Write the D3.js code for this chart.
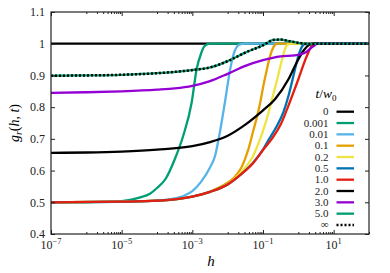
<!DOCTYPE html>
<html>
<head>
<meta charset="utf-8">
<script src="https://cdn.jsdelivr.net/npm/d3@7"></script>
<style>
  body { margin: 0; background: #fff; }
  text { font-family: 'Liberation Serif', 'Times New Roman', 'DejaVu Serif', serif; }
</style>
</head>
<body>
<svg id="chart" width="390" height="273"></svg>
<script>
// series: [log10(h), g_r] pairs
const s0    = [[-7, 1], [2, 1]];
const s0001 = [[-7, 0.5], [-6, 0.5], [-5.3, 0.501], [-5, 0.504], [-4.5, 0.515], [-4.2, 0.527], [-4, 0.545], [-3.75, 0.575], [-3.5, 0.635], [-3.26, 0.709], [-3.02, 0.814], [-2.88, 0.919], [-2.75, 0.97], [-2.65, 0.993], [-2.5, 1], [2, 1]];
const s001  = [[-7, 0.5], [-5, 0.501], [-4, 0.505], [-3.5, 0.512], [-3.25, 0.52], [-3, 0.535], [-2.75, 0.565], [-2.5, 0.61], [-2.36, 0.645], [-2.24, 0.709], [-2.08, 0.814], [-1.93, 0.919], [-1.79, 0.98], [-1.65, 0.998], [-1.5, 1], [2, 1]];
const s01   = [[-7, 0.5], [-5, 0.502], [-4, 0.505], [-3, 0.518], [-2.5, 0.534], [-2.03, 0.56], [-1.8, 0.58], [-1.6, 0.612], [-1.42, 0.665], [-1.27, 0.728], [-1.18, 0.765], [-1.08, 0.814], [-0.99, 0.867], [-0.89, 0.919], [-0.8, 0.961], [-0.7, 0.99], [-0.6, 1], [2, 1]];
const s02   = [[-7, 0.5], [-5, 0.502], [-4, 0.505], [-3, 0.518], [-2.5, 0.533], [-2, 0.557], [-1.8, 0.575], [-1.5, 0.61], [-1.3, 0.642], [-1.15, 0.68], [-1, 0.725], [-0.85, 0.78], [-0.71, 0.84], [-0.57, 0.9], [-0.45, 0.955], [-0.35, 0.99], [-0.25, 1], [2, 1]];
const s05   = [[-7, 0.5], [-5, 0.502], [-4, 0.505], [-3, 0.518], [-2.5, 0.533], [-2, 0.556], [-1.6, 0.59], [-1.27, 0.626], [-1, 0.666], [-0.85, 0.695], [-0.6, 0.742], [-0.42, 0.785], [-0.28, 0.835], [-0.14, 0.898], [0, 0.961], [0.1, 0.99], [0.2, 1], [2, 1]];
const s10   = [[-7, 0.5], [-5, 0.502], [-4, 0.505], [-3.5, 0.509], [-3, 0.518], [-2.5, 0.533], [-2, 0.556], [-1.6, 0.59], [-1.27, 0.625], [-1, 0.665], [-0.75, 0.7], [-0.5, 0.745], [-0.28, 0.805], [0, 0.888], [0.24, 0.961], [0.38, 0.993], [0.5, 1], [2, 1]];
const s20   = [[-7, 0.656], [-6, 0.657], [-5, 0.66], [-4, 0.666], [-3, 0.677], [-2.5, 0.69], [-2, 0.71], [-1.5, 0.745], [-1, 0.79], [-0.66, 0.825], [-0.28, 0.888], [-0.05, 0.94], [0.14, 0.977], [0.3, 0.996], [0.45, 1], [2, 1]];
const s30   = [[-7, 0.845], [-6, 0.847], [-5, 0.85], [-4, 0.855], [-3.5, 0.859], [-3, 0.867], [-2.5, 0.882], [-2, 0.905], [-1.5, 0.93], [-1, 0.948], [-0.5, 0.96], [-0.1, 0.963], [0.2, 0.972], [0.4, 0.99], [0.55, 1], [2, 1]];
const s50   = [[-7, 0.899], [-6, 0.9], [-5, 0.902], [-4, 0.907], [-3, 0.917], [-2.5, 0.925], [-2, 0.945], [-1.5, 0.972], [-1, 0.995], [-0.7, 1.012], [-0.5, 1.013], [-0.25, 1.008], [0, 1.003], [0.3, 0.999], [0.6, 1], [2, 1]];
const sInf  = s50;

const labels = ["0", "0.001", "0.01", "0.1", "0.2", "0.5", "1.0", "2.0", "3.0", "5.0", "\u221e"];
const colors = ["#000000", "#009e73", "#56b4e9", "#e69f00", "#f0e442", "#0072b2", "#e51e10", "#000000", "#9400d3", "#009e73", "#000000"];
const series = [s0, s0001, s001, s01, s02, s05, s10, s20, s30, s50, sInf];

const yTicks = [0.4, 0.5, 0.6, 0.7, 0.8, 0.9, 1, 1.1];
const xLabelExps = [-7, -5, -3, -1, 1];

const L = 51, R = 369, T = 12, B = 234;
const svg = d3.select('#chart');

const x = d3.scaleLog().domain([1e-7, 1e2]).range([L, R]);
const y = d3.scaleLinear().domain([0.4, 1.1]).range([B, T]);

// ticks: base-100 style, majors at odd decades, minors 1..9 x even decades
let majorX = [], minorX = [];
for (let e = -7; e <= 2; e++) {
    if ((e + 7) % 2 === 0) majorX.push(Math.pow(10, e));
    else for (let k = 1; k <= 9; k++) minorX.push(k * Math.pow(10, e));
}
minorX = minorX.filter(v => v <= 1e2);

const line = d3.line()
    .x(d => x(Math.pow(10, d[0])))
    .y(d => y(d[1]))
    .curve(d3.curveMonotoneX);

svg.append('clipPath').attr('id', 'clip')
    .append('rect').attr('x', L).attr('y', T).attr('width', R - L).attr('height', B - T);

const g = svg.append('g').attr('clip-path', 'url(#clip)');
series.forEach(function (s, i) {
    let p = g.append('path')
        .attr('d', line(s))
        .attr('fill', 'none')
        .attr('stroke', colors[i])
        .attr('stroke-width', 2.3);
    if (i === series.length - 1) p.attr('stroke-dasharray', '2,2').attr('stroke-width', 2.5);
});

// axes
function drawAxis(axis, tx, ty) {
    let a = svg.append('g').attr('transform', 'translate(' + tx + ',' + ty + ')').call(axis);
    a.select('.domain').remove();
    a.attr('font-family', null).attr('font-size', null);
    a.selectAll('line').attr('stroke', '#222');
    return a;
}
drawAxis(d3.axisBottom(x).tickValues(majorX).tickSize(-4).tickFormat(''), 0, B);
drawAxis(d3.axisBottom(x).tickValues(minorX).tickSize(-2).tickFormat(''), 0, B);
drawAxis(d3.axisTop(x).tickValues(majorX).tickSize(-4).tickFormat(''), 0, T);
drawAxis(d3.axisTop(x).tickValues(minorX).tickSize(-2).tickFormat(''), 0, T);
let ya = drawAxis(d3.axisLeft(y).tickValues(yTicks).tickSize(-4)
    .tickFormat(d => d === 1 ? '1' : d3.format('.1f')(d)), L, 0);
ya.selectAll('text').attr('x', -6).attr('font-size', 12).attr('fill', '#222');
drawAxis(d3.axisRight(y).tickValues(yTicks).tickSize(-4).tickFormat(''), R, 0);

svg.append('rect').attr('x', L).attr('y', T).attr('width', R - L).attr('height', B - T)
    .attr('fill', 'none').attr('stroke', '#222').attr('stroke-width', 1.2);

// x tick labels 10^n
let xl = svg.append('g').selectAll('text').data(xLabelExps).enter().append('text')
    .attr('x', d => x(Math.pow(10, d)))
    .attr('y', B + 15)
    .attr('text-anchor', 'middle')
    .attr('fill', '#222')
    .attr('font-size', 12);
xl.append('tspan').text('10');
xl.append('tspan').attr('dy', -5).attr('font-size', 8.5)
    .text(d => (d < 0 ? '\u2212' : '') + Math.abs(d));

// axis titles
svg.append('text').attr('x', (L + R) / 2 + 1).attr('y', 266).attr('text-anchor', 'middle')
    .attr('font-size', 15).attr('font-style', 'italic').text('h');

let yt = svg.append('text').attr('transform', 'translate(19,' + ((T + B) / 2) + ') rotate(-90)')
    .attr('text-anchor', 'middle').attr('font-size', 14);
yt.append('tspan').attr('font-style', 'italic').text('g');
yt.append('tspan').attr('font-style', 'italic').attr('font-size', 9.5).attr('dy', 3).text('r');
yt.append('tspan').attr('dy', -3).text('(');
yt.append('tspan').attr('font-style', 'italic').text('h');
yt.append('tspan').text(', ');
yt.append('tspan').attr('font-style', 'italic').text('t');
yt.append('tspan').text(')');

// legend
let lt = svg.append('text').attr('x', 326).attr('y', 98).attr('text-anchor', 'middle')
    .attr('font-size', 13.5);
lt.append('tspan').attr('font-style', 'italic').text('t');
lt.append('tspan').text('/');
lt.append('tspan').attr('font-style', 'italic').text('w');
lt.append('tspan').attr('dy', 3).attr('font-size', 9).text('0');

const rowY = d3.scalePoint().domain(d3.range(labels.length)).range([111.7, 225]);
let lg = svg.append('g').selectAll('g').data(labels).enter().append('g')
    .attr('transform', (d, i) => 'translate(0,' + rowY(i) + ')');
lg.append('text').attr('x', 328.5).attr('y', d => d === '\u221e' ? 3 : 3.5).attr('text-anchor', 'end')
    .attr('fill', '#222')
    .attr('font-size', 11).text(d => d);
lg.each(function (d, i) {
    let sel = d3.select(this);
    if (i === labels.length - 1) {
        sel.append('line').attr('x1', 336.5).attr('x2', 354).attr('stroke', '#000')
            .attr('stroke-width', 2.5).attr('stroke-dasharray', '2,2');
    } else {
        sel.append('line').attr('x1', 336.5).attr('x2', 354).attr('stroke', colors[i])
            .attr('stroke-width', 2.3);
    }
});
</script>
</body>
</html>
